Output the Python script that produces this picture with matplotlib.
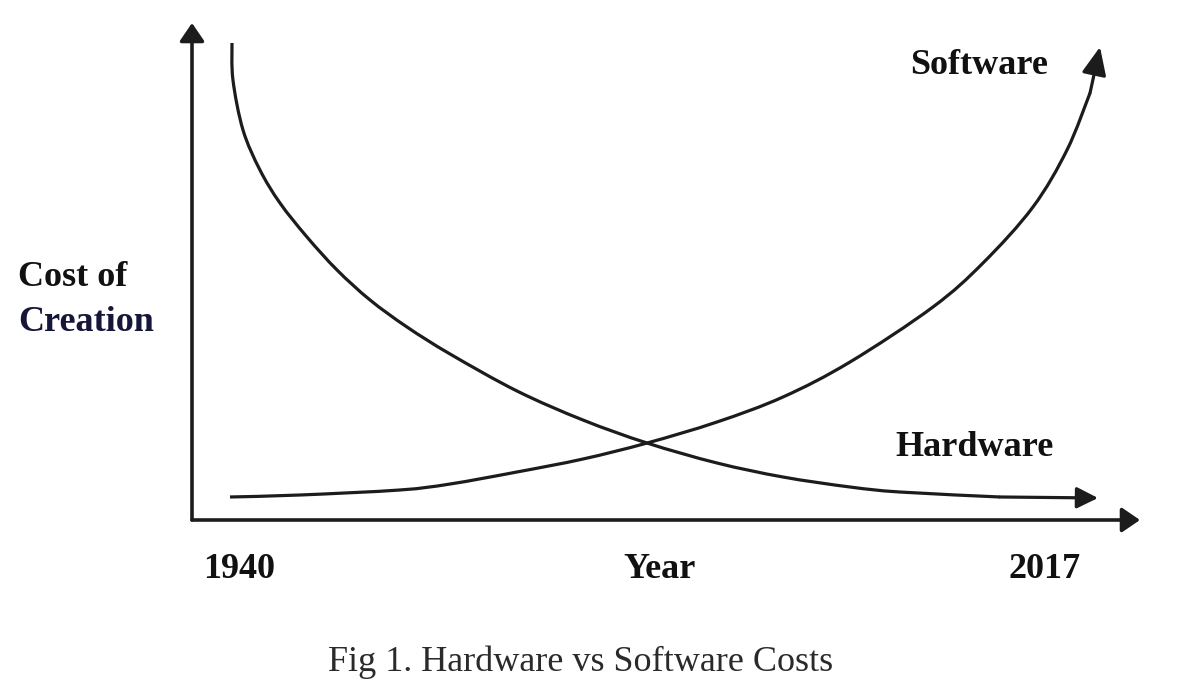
import matplotlib
matplotlib.use("Agg")
import matplotlib.pyplot as plt
from matplotlib.path import Path
from matplotlib.patches import PathPatch

# Time axis (percent of span, 1940 -> 2017) and relative cost of creation (percent)
hardware_t = [4.22, 4.32, 5.38, 7.17, 9.28, 12.13, 15.30, 18.78, 22.68, 27.22, 34.28,
              41.24, 48.00, 55.38, 62.34, 69.41, 74.68, 85.23, 95.57]
hardware_cost = [95.98, 88.53, 78.47, 70.42, 63.78, 56.94, 50.30, 44.27, 38.83, 33.40, 25.96,
                 20.12, 15.49, 11.47, 8.65, 6.64, 5.63, 4.63, 4.43]

software_t = [4.01, 11.39, 21.94, 27.22, 34.28, 41.24, 48.00, 55.38, 62.34, 69.41, 78.16,
              83.44, 88.71, 92.30, 94.73, 95.78]
software_cost = [4.63, 5.03, 6.04, 7.24, 9.66, 12.27, 15.49, 19.72, 24.75, 31.79, 42.86,
                 51.71, 62.98, 74.45, 85.92, 95.17]

year_labels = ["1940", "Year", "2017"]
series_labels = ["Software", "Hardware"]
y_label_lines = ["Cost of", "Creation"]
caption = "Fig 1. Hardware vs Software Costs"

W, H = 1180, 684
fig = plt.figure(figsize=(W / 100, H / 100), dpi=100)
fig.patch.set_facecolor("white")

ax = fig.add_axes([192 / W, 1 - 520 / H, (1140 - 192) / W, (520 - 23) / H])
ax.set_xlim(0, 100)
ax.set_ylim(0, 100)
ax.axis("off")

ink = "#1c1c1c"
axis_head = "-|>,head_length=1.1,head_width=0.75"

# axes with arrows
ax.annotate("", xy=(0, 1.0), xytext=(0, 0), xycoords="axes fraction",
            arrowprops=dict(arrowstyle=axis_head, color=ink, lw=2.6, shrinkA=0, shrinkB=0))
ax.annotate("", xy=(1.0, 0), xytext=(0, 0), xycoords="axes fraction",
            arrowprops=dict(arrowstyle=axis_head, color=ink, lw=2.6, shrinkA=0, shrinkB=0))


def smooth_path(xs, ys):
    """Catmull-Rom spline through the given points, as cubic Bezier path."""
    pts = list(zip(xs, ys))
    verts = [pts[0]]
    codes = [Path.MOVETO]
    n = len(pts)
    for i in range(n - 1):
        p0 = pts[i - 1] if i > 0 else pts[i]
        p1 = pts[i]
        p2 = pts[i + 1]
        p3 = pts[i + 2] if i + 2 < n else pts[i + 1]
        c1 = (p1[0] + (p2[0] - p0[0]) / 6, p1[1] + (p2[1] - p0[1]) / 6)
        c2 = (p2[0] - (p3[0] - p1[0]) / 6, p2[1] - (p3[1] - p1[1]) / 6)
        verts += [c1, c2, p2]
        codes += [Path.CURVE4] * 3
    return Path(verts, codes)


curve_heads = ["-|>,head_length=1.3,head_width=0.65", "-|>,head_length=1.7,head_width=0.75"]
for (xs, ys), hd in zip([(hardware_t, hardware_cost), (software_t, software_cost)], curve_heads):
    ax.add_patch(PathPatch(smooth_path(xs[:-1], ys[:-1]), facecolor="none",
                           edgecolor=ink, lw=2.3, capstyle="butt"))
    ax.annotate("", xy=(xs[-1], ys[-1]), xytext=(xs[-2], ys[-2]),
                arrowprops=dict(arrowstyle=hd, color=ink, lw=2.3,
                                shrinkA=0, shrinkB=0))

serif = ["Liberation Serif", "DejaVu Serif"]
bold_kw = dict(family=serif, fontweight="bold", fontsize=26)


def ftxt(x, y, s, **kw):
    fig.text(x / W, 1 - y / H, s, **kw)


ftxt(18, 278, y_label_lines[0], ha="left", va="center", color="#111111", **bold_kw)
ftxt(18, 322, y_label_lines[1], ha="left", va="center", color="#16163a", **bold_kw)

ftxt(239, 570, year_labels[0], ha="center", va="center", color="#111111", **bold_kw)
ftxt(660, 570, year_labels[1], ha="center", va="center", color="#111111", **bold_kw)
ftxt(1045, 570, year_labels[2], ha="center", va="center", color="#111111", **bold_kw)

ftxt(979, 66, series_labels[0], ha="center", va="center", color="#111111", **bold_kw)
ftxt(974, 447, series_labels[1], ha="center", va="center", color="#111111", **bold_kw)

ftxt(581, 662, caption, ha="center", va="center", color="#2a2a2a",
     family=serif, fontsize=26)

fig.savefig("out.png", dpi=100, facecolor="white")
